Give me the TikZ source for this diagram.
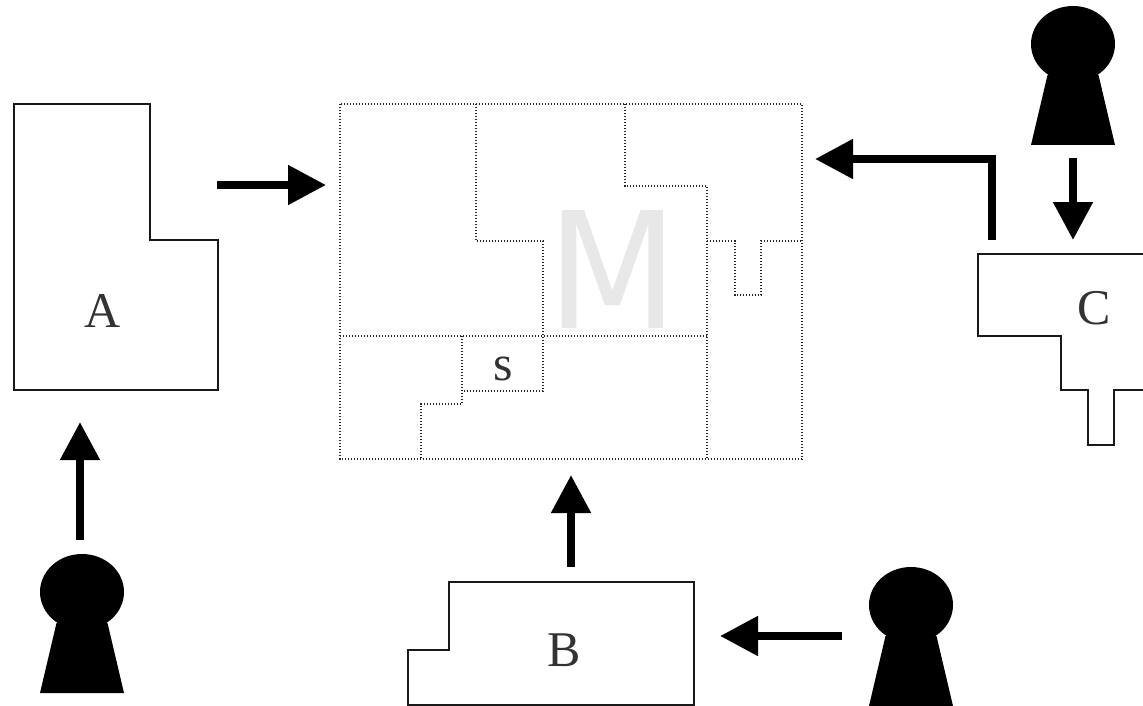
\documentclass[tikz,border=0pt]{standalone}
\usepackage{fontspec}
\setmainfont{Liberation Serif}
\newfontfamily\msans{DejaVu Sans}
\usetikzlibrary{arrows.meta}
\tikzset{
  x=1pt,y=-1pt,
  region/.style={draw=black!90,line width=1.3pt,fill=white,line join=miter},
  part/.style={draw=black!85,line width=1.6pt,dash pattern=on 1.2pt off 1.8pt},
  flow/.style={draw=black,line width=8pt,-{Triangle[length=38pt,width=38pt]}},
  letter/.style={font=\fontsize{50}{50}\selectfont,text=black!80,inner sep=0pt},
  bodyshape/.style={fill=black,draw=none},
  pics/person/.style={code={
    \fill[bodyshape] (-25.5,68) -- (25.5,68) -- (42,138) -- (-42,138) -- cycle;
    \fill[bodyshape] (0,37) ellipse[x radius=42,y radius=38];
  }}
}
\begin{document}
\begin{tikzpicture}
\useasboundingbox (0,0) rectangle (1143,706);
\clip (0,0) rectangle (1143,706);
% regions
\draw[region] (14,104) -- (150,104) -- (150,240) -- (218,240) -- (218,390) -- (14,390) -- cycle;
\draw[region] (449,582) -- (694,582) -- (694,705) -- (408,705) -- (408,650) -- (449,650) -- cycle;
\draw[region] (1150,254) -- (978,254) -- (978,336) -- (1061,336) -- (1061,390) -- (1088,390) -- (1088,445) -- (1114,445) -- (1114,390) -- (1150,390);
\node[letter] (A) at (103,311) {A};
\node[letter] (B) at (564,650) {B};
\node[letter] (C) at (1094,308) {C};
% M block
\node[inner sep=0pt,text=black!9,font=\msans\fontsize{162}{162}\selectfont,xscale=0.935] (M) at (612.5,269) {M};
\draw[part] (340,104) rectangle (802,459);
\draw[part] (476,104) -- (476,241) -- (543,241) -- (543,391) -- (462,391);
\draw[part] (340,336) -- (707,336);
\draw[part] (625,104) -- (625,186) -- (707,186) -- (707,459);
\draw[part] (707,241) -- (735,241) -- (735,295) -- (761,295) -- (761,241) -- (802,241);
\draw[part] (462,336) -- (462,404) -- (421,404) -- (421,459);
\node[letter] (S) at (503,369) {s};
% people
\pic (pa) at (82,555) {person};
\pic (pb) at (911,568) {person};
\pic (pc) at (1073,7) {person};
% connector ends
\coordinate (a1) at (217,185);
\coordinate (a2) at (326,185);
\coordinate (b1) at (80,540);
\coordinate (b2) at (80,422);
\coordinate (c1) at (571,567);
\coordinate (c2) at (571,475);
\coordinate (d1) at (842,636);
\coordinate (d2) at (720,636);
\coordinate (e1) at (992,240);
\coordinate (e2) at (815,159);
\coordinate (f1) at (1073,158);
\coordinate (f2) at (1073,240);
\draw[flow] (a1) -- (a2);
\draw[flow] (b1) -- (b2);
\draw[flow] (c1) -- (c2);
\draw[flow] (d1) -- (d2);
\draw[flow] (e1) |- (e2);
\draw[flow] (f1) -- (f2);
\end{tikzpicture}
\end{document}
